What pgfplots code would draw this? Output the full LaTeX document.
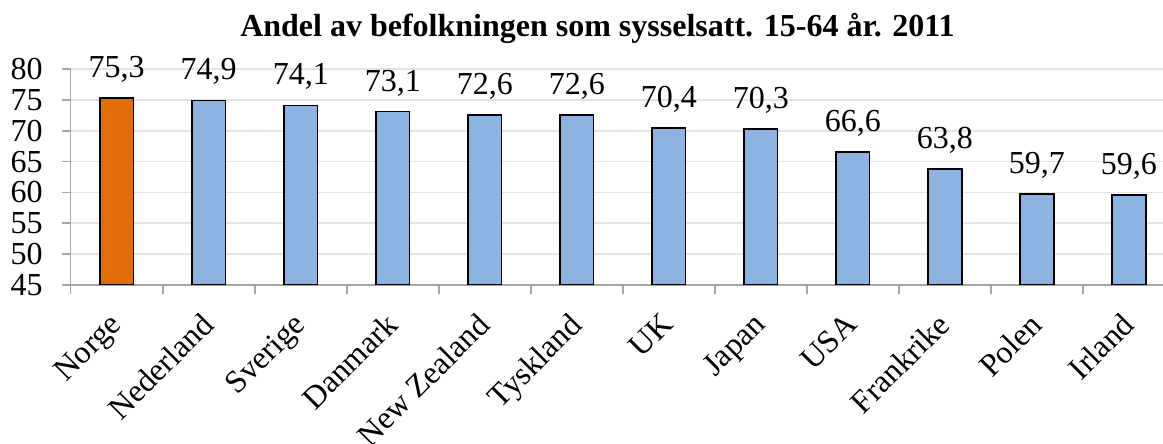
\documentclass[border=0pt]{standalone}
\usepackage{fontspec}
\setmainfont{Liberation Serif}
\usepackage{pgfplots}
\pgfplotsset{compat=1.18}
\definecolor{barblue}{HTML}{8DB3E2}
\definecolor{barorange}{HTML}{E36C0A}
\definecolor{gridgray}{HTML}{E4E4E4}
\definecolor{axisgray}{HTML}{A6A6A6}

\begin{document}
\begin{tikzpicture}
\begin{axis}[
    scale only axis,
    width=546.15pt,
    height=108pt,
    xmin=-0.5,
    xmax=11.37,
    ymin=45,
    ymax=80,
    ytick={45,50,...,80},
    xtick={-0.5,0.5,...,10.5},
    xticklabels={},
    extra x ticks={0,1,...,11},
    extra x tick labels={Norge,Nederland,Sverige,Danmark,New Zealand,Tyskland,UK,Japan,USA,Frankrike,Polen,Irland},
    extra x tick style={major tick length=0pt,grid=none},
    axis lines*=left,
    axis line style={draw=axisgray,line width=0.8pt},
    ymajorgrids,
    grid style={draw=gridgray,line width=0.8pt},
    tick align=outside,
    tick style={draw=axisgray,line width=0.8pt},
    major tick length=4.5pt,
    tick label style={font=\fontsize{16}{19}\selectfont},
    xticklabel style={xshift=-4.5pt,yshift=-11.5pt,rotate=45,anchor=north east,inner sep=1pt},
    yticklabel style={xshift=-6pt},
    /pgf/number format/assume math mode=true,
    ybar,
    bar width=16.7pt,
    bar shift=0pt,
    nodes near coords={\pgfmathprintnumber[fixed,fixed zerofill,precision=1,use comma,assume math mode=true]{\pgfplotspointmeta}},
    every node near coord/.append style={font=\fontsize{16}{19}\selectfont,text=black,yshift=4pt},
]
\addplot[draw=black,line width=0.9pt,fill=barorange]
    coordinates {(0,75.3)};
\addplot[draw=black,line width=0.9pt,fill=barblue]
    coordinates {(1,74.9) (2,74.1) (3,73.1) (4,72.6) (5,72.6) (6,70.4)
                 (7,70.3) (8,66.6) (9,63.8) (10,59.7) (11,59.6)};
\end{axis}
\node[anchor=base,font=\bfseries\fontsize{16}{19}\selectfont]
    at ([xshift=263.4pt,yshift=16pt]current axis.north west)
    {Andel av befolkningen som sysselsatt. 15-64 år. 2011};
\pgfresetboundingbox
\path[use as bounding box]
    ([xshift=-35.35pt,yshift=34.5pt]current axis.north west)
    rectangle ([xshift=546.15pt,yshift=-187.5pt]current axis.north west);
\end{tikzpicture}
\end{document}
